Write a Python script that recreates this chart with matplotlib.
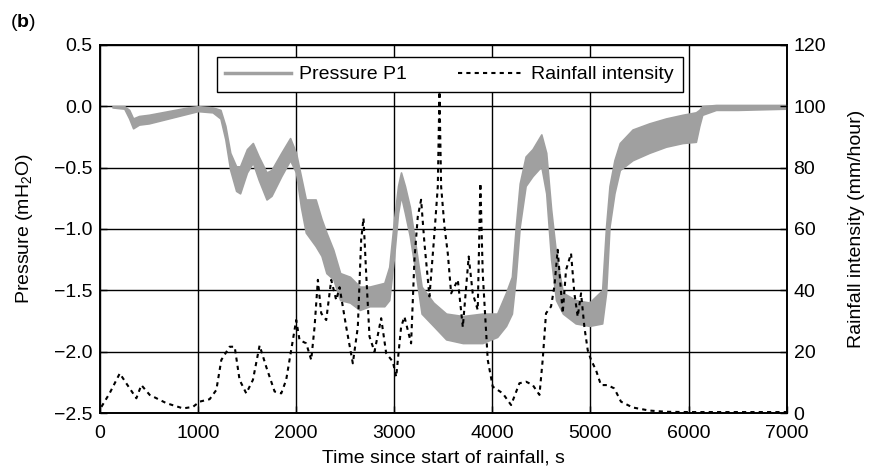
import matplotlib
matplotlib.use("Agg")
import matplotlib.pyplot as plt
from matplotlib.lines import Line2D

plt.rcParams['font.family'] = ['Liberation Sans', 'DejaVu Sans']
plt.rcParams['mathtext.fontset'] = 'custom'
plt.rcParams['mathtext.rm'] = 'Liberation Sans'
plt.rcParams['mathtext.bf'] = 'Liberation Sans:bold'
plt.rcParams['font.size'] = 14

# Pressure P1 (mH2O): noisy band read as upper / lower envelope
p_time = [130, 250, 300, 340, 400, 500, 700, 900, 1000, 1150, 1230, 1280, 1330,
          1390, 1430, 1500, 1560, 1620, 1700, 1750, 1850, 1940, 2000, 2050, 2100,
          2200, 2260, 2310, 2380, 2450, 2550, 2650, 2750, 2900, 2950, 3000, 3040,
          3070, 3110, 3160, 3220, 3280, 3400, 3530, 3700, 3900, 4050, 4140, 4200,
          4240, 4280, 4340, 4410, 4500, 4550, 4600, 4650, 4720, 4850, 4990, 5120,
          5160, 5195, 5245, 5300, 5430, 5600, 5770, 5940, 6075, 6110, 6140, 6280,
          6500, 7000]
p_high = [0.0, 0.0, -0.03, -0.10, -0.08, -0.07, -0.04, -0.01, 0.0, -0.01, -0.03,
          -0.16, -0.38, -0.49, -0.49, -0.35, -0.30, -0.41, -0.54, -0.52, -0.38,
          -0.26, -0.38, -0.57, -0.76, -0.76, -0.92, -1.03, -1.17, -1.36, -1.39,
          -1.47, -1.47, -1.44, -1.31, -0.92, -0.65, -0.54, -0.65, -0.82, -1.14,
          -1.47, -1.60, -1.69, -1.71, -1.69, -1.69, -1.52, -1.39, -0.98, -0.63,
          -0.41, -0.35, -0.23, -0.38, -0.84, -1.20, -1.52, -1.58, -1.60, -1.50,
          -0.98, -0.65, -0.44, -0.30, -0.19, -0.14, -0.10, -0.07, -0.05, -0.03,
          0.0, 0.01, 0.01, 0.01]
p_low = [-0.01, -0.02, -0.10, -0.18, -0.15, -0.14, -0.10, -0.06, -0.04, -0.05,
         -0.10, -0.27, -0.52, -0.69, -0.71, -0.54, -0.46, -0.60, -0.76, -0.73,
         -0.57, -0.44, -0.54, -0.82, -1.03, -1.14, -1.22, -1.36, -1.41, -1.58,
         -1.60, -1.66, -1.63, -1.63, -1.58, -1.22, -0.87, -0.73, -0.87, -1.06,
         -1.36, -1.69, -1.79, -1.90, -1.93, -1.93, -1.88, -1.79, -1.69, -1.39,
         -0.98, -0.65, -0.57, -0.49, -0.71, -1.25, -1.58, -1.69, -1.77, -1.79,
         -1.77, -1.52, -0.98, -0.71, -0.52, -0.44, -0.38, -0.33, -0.30, -0.29,
         -0.16, -0.07, -0.03, -0.03, -0.02]

# Rainfall intensity (mm/hour)
r_time = [17, 100, 204, 270, 373, 424, 509, 679, 849, 950, 1018, 1120, 1188, 1239,
          1324, 1375, 1425, 1493, 1561, 1629, 1697, 1782, 1850, 1900, 1951, 2002,
          2036, 2104, 2155, 2189, 2223, 2257, 2308, 2359, 2410, 2444, 2512, 2579,
          2630, 2664, 2688, 2715, 2749, 2800, 2868, 2919, 2987, 3021, 3071, 3105,
          3173, 3207, 3241, 3275, 3309, 3360, 3411, 3445, 3462, 3479, 3513, 3547,
          3581, 3649, 3700, 3760, 3801, 3852, 3879, 3903, 3954, 4005, 4107, 4192,
          4277, 4345, 4413, 4481, 4514, 4548, 4599, 4633, 4667, 4718, 4752, 4803,
          4837, 4871, 4905, 4939, 4973, 5007, 5057, 5108, 5176, 5244, 5312, 5431,
          5600, 5770, 6000, 6500, 7000]
rain = [2, 6.4, 12.9, 9.7, 4.8, 9.1, 5.9, 3.2, 1.5, 2, 3.7, 4.5, 7.5, 17.3,
        21.6, 21.6, 10.8, 6.4, 10.8, 22, 15, 7, 6.4, 10.8, 20.5, 30.3,
        23.8, 22.7, 17.3, 28, 43.4, 32.5, 30.3, 43.4, 36.8, 41, 28, 16.2,
        28, 56.4, 63.5, 45.5, 24.9, 20, 30.9, 19.5, 16.7, 11.8, 28, 31.4,
        22.7, 50, 64, 69.5, 55.3, 38, 58.6, 73.8, 104.8, 73.8, 60.8, 52,
        39, 43.4, 28, 51, 39, 33.6, 74.9, 45.5, 17.3, 8.6, 6.4, 2.6,
        9.7, 10.2, 9.1, 5.9, 17.3, 32.5, 34.7, 41.2, 53.2, 32.5, 46.6, 52,
        39, 31.4, 39, 28, 20.5, 17.3, 14, 9.1, 9.1, 8, 3.7, 1.8,
        0.8, 0.4, 0.3, 0.3, 0.3]

y_ticks = [-2.5, -2.0, -1.5, -1.0, -0.5, 0.0, 0.5]
y_labels = ['\u22122.5', '\u22122.0', '\u22121.5', '\u22121.0', '\u22120.5', '0.0', '0.5']

fig = plt.figure(figsize=(8.75, 4.72), dpi=100)
ax = fig.add_axes([0.114, 0.125, 0.785, 0.78])
ax2 = ax.twinx()

gray = '#a0a0a0'
ax.fill_between(p_time, p_low, p_high, color=gray, edgecolor=gray, lw=1.2, zorder=3)
ax2.plot(r_time, rain, color='black', lw=1.5, dashes=(2, 2))

ax.set_xlim(0, 7000)
ax.set_ylim(-2.5, 0.5)
ax2.set_ylim(0, 120)
ax.set_xticks(range(0, 7001, 1000))
ax.set_yticks(y_ticks)
ax.set_yticklabels(y_labels)
ax2.set_yticks(range(0, 121, 20))
ax.grid(True, color='black', lw=1.0, zorder=0)
ax.set_axisbelow(True)
for a in (ax, ax2):
    a.tick_params(direction='in', length=5, width=1, pad=5, labelsize=14)
    for s in a.spines.values():
        s.set_linewidth(1.2)
ax.tick_params(axis='x', pad=9)

ax.set_xlabel('Time since start of rainfall, s', fontsize=14, labelpad=5)
ax.set_ylabel('Pressure (mH$_2$O)', fontsize=14, labelpad=14)
ax2.set_ylabel('Rainfall intensity (mm/hour)', fontsize=14, labelpad=16)

handles = [Line2D([], [], color=gray, lw=2.5),
           Line2D([], [], color='black', lw=1.5, dashes=(2, 2))]
leg = ax2.legend(handles, ['Pressure P1', 'Rainfall intensity'], ncol=2,
                 loc='upper left', bbox_to_anchor=(0.170, 0.967),
                 fancybox=False, framealpha=1, edgecolor='black',
                 borderaxespad=0, borderpad=0.45, handlelength=3.4,
                 handletextpad=0.4, columnspacing=2.6, fontsize=14)
leg.get_frame().set_linewidth(1.0)

fig.text(0.012, 0.953, r'($\mathbf{b}$)', fontsize=14, va='center')

fig.savefig('out.png', dpi=100)
